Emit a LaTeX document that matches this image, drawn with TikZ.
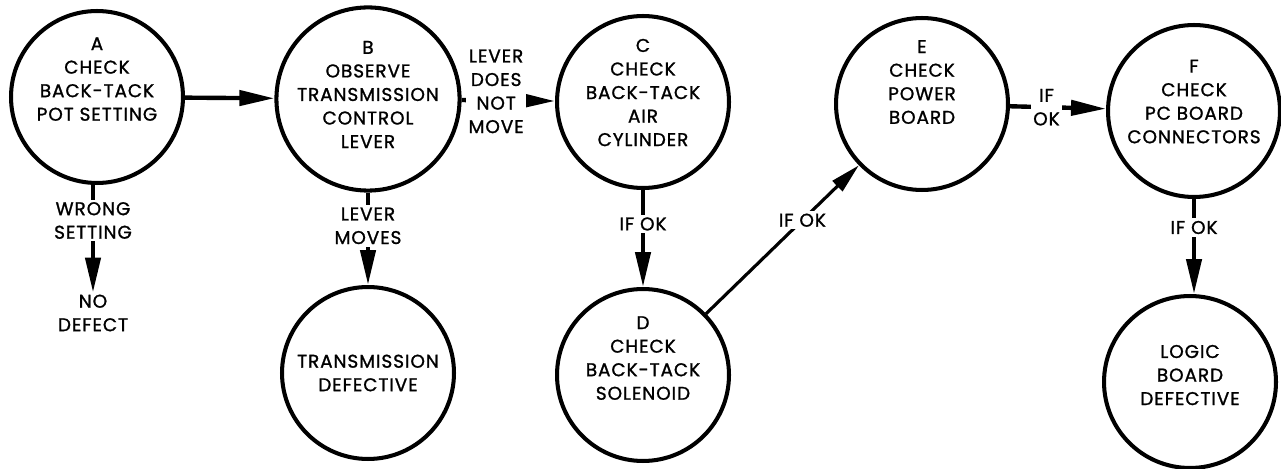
\documentclass[tikz,border=0pt]{standalone}
\usepackage{fontspec}
\setmainfont{Poppins}[FakeBold=1.2, LetterSpace=5]
\usetikzlibrary{arrows.meta}
\tikzset{
  stn/.style={circle, draw=black, line width=2.3pt, minimum size=3.44cm,
              inner sep=0pt, align=center, font=\fontsize{10.5}{13.4}\selectfont},
  txt/.style={align=center, inner sep=1pt, font=\fontsize{10.5}{13.4}\selectfont},
  lbl/.style={fill=white, align=center, inner sep=1.5pt,
              font=\fontsize{10.5}{13.4}\selectfont},
  arr/.style={-{Triangle[length=0.7cm, width=0.3cm]}, line width=2.5pt},
  thin arr/.style={-{Triangle[length=0.6cm, width=0.28cm]}, line width=1.8pt},
}
\begin{document}
\begin{tikzpicture}[x=0.02cm, y=-0.02cm]
  \useasboundingbox (0,0) rectangle (1281,469);

  % checks
  \node[stn, text depth=0.72cm] (A) at (97,97)   {A\\CHECK\\BACK-TACK\\POT SETTING};
  \node[stn, text depth=0.18cm] (B) at (368,99)  {B\\OBSERVE\\TRANSMISSION\\CONTROL\\LEVER};
  \node[stn, text depth=0.38cm] (C) at (643,102) {C\\CHECK\\BACK-TACK\\AIR\\CYLINDER};
  \node[stn, text depth=0.68cm] (D) at (643,375) {D\\CHECK\\BACK-TACK\\SOLENOID};
  \node[stn, text depth=0.88cm] (E) at (922,104) {E\\CHECK\\POWER\\BOARD};
  \node[stn, text depth=0.38cm] (F) at (1194,111) {F\\CHECK\\PC BOARD\\CONNECTORS};

  % results
  \node[txt] (nodef) at (93,313) {NO\\DEFECT};
  \node[stn] (tdef) at (368,373)  {TRANSMISSION\\DEFECTIVE};
  \node[stn, text depth=0.28cm] (ldef) at (1190,382) {LOGIC\\BOARD\\DEFECTIVE};

  \draw[arr] (A) -- (B);
  \draw[arr] (A.south -| nodef) -- node[lbl, pos=0.33]{WRONG\\SETTING} (nodef);
  \draw[arr] (B) -- node[lbl, pos=0.37, yshift=0.18cm]{LEVER\\DOES\\NOT\\MOVE} (C);
  \draw[arr] (B) -- node[lbl, pos=0.36]{LEVER\\MOVES} (tdef);
  \draw[arr] (C) -- node[lbl, pos=0.35]{IF OK} (D);
  \draw[thin arr] (D) -- node[lbl, pos=0.63]{IF OK} (E);
  \draw[arr] (E) -- node[lbl, pos=0.38]{IF\\OK} (F);
  \draw[arr] (F.south) -- node[lbl, pos=0.3]{IF OK} (F.south |- ldef.north);
\end{tikzpicture}
\end{document}
